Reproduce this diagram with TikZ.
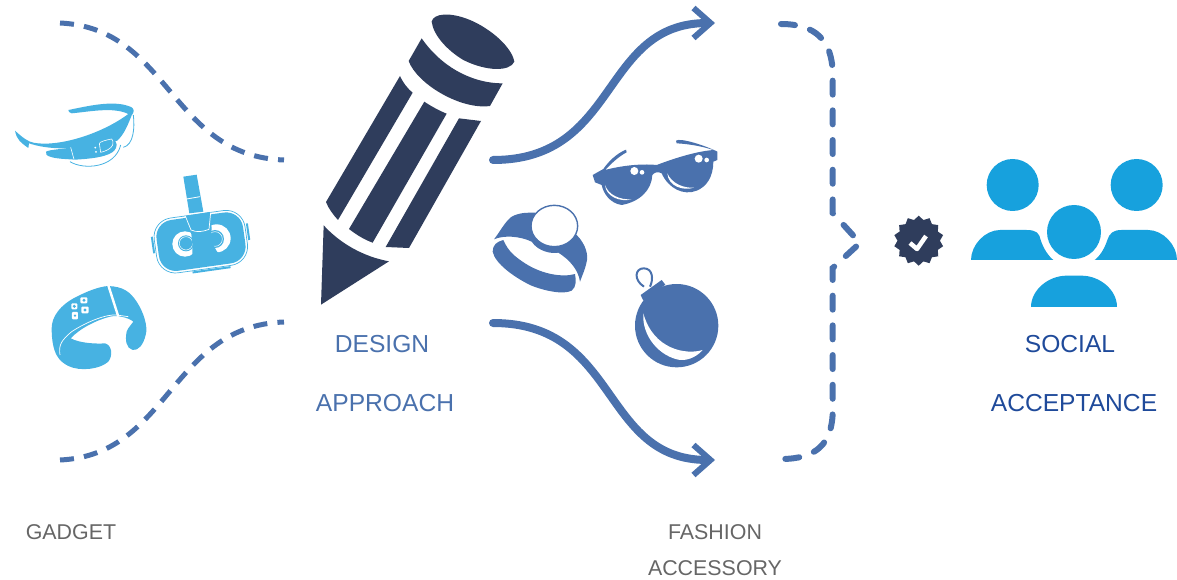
\documentclass[tikz,border=0pt]{standalone}
\usepackage{fontspec}
\setmainfont{Liberation Sans}
\usepackage{xcolor}
\usetikzlibrary{arrows.meta, shapes.geometric}
\definecolor{gadgetBlue}{HTML}{47b2e2}
\definecolor{peopleBlue}{HTML}{17a1dd}
\definecolor{pencilDark}{HTML}{2f3d5c}
\definecolor{accessBlue}{HTML}{4a71ad}
\definecolor{socialBlue}{HTML}{1f4a9a}
\definecolor{labelGrey}{HTML}{666666}
\begin{document}
\begin{tikzpicture}[x=1pt,y=-1pt,lbl/.style={font=\fontsize{24.6}{28}\selectfont, inner sep=0pt},lblgrey/.style={font=\fontsize{21.4}{26}\selectfont, inner sep=0pt, color=labelGrey},flow/.style={-{Straight Barb[length=17pt,width=30pt,line width=6pt]}, line width=8pt, line cap=round, color=accessBlue},dashedflow/.style={line width=5pt, color=accessBlue, dash pattern=on 14pt off 10.2pt},bracedash/.style={line width=6pt, line cap=round, color=accessBlue, dash pattern=on 14pt off 15.7pt},zoomA/.style={shift={(0,90)},scale=1/3},zoomB/.style={shift={(300,0)},scale=1/3},zoomC/.style={shift={(480,120)},scale=1/3},zoomD/.style={shift={(880,150)},scale=1/3}]
\useasboundingbox (0,0) rectangle (1177,580);
\coordinate (gadgetTop) at (60,23);
\coordinate (gadgetBot) at (60,460);
\coordinate (designTop) at (284,160);
\coordinate (designBot) at (284,322);
\coordinate (penTop) at (493,160);
\coordinate (penBot) at (493,323);
\coordinate (fashionTop) at (715,23);
\coordinate (fashionBot) at (715,460);
\coordinate (braceTop) at (781,24);
\coordinate (braceBot) at (781,459);
\coordinate (braceTip) at (860,243);
\draw[dashedflow] (gadgetTop) .. controls (170,28) and (170,156) .. (designTop);
\draw[dashedflow] (gadgetBot) .. controls (170,455) and (170,326) .. (designBot);
\draw[flow] (penTop) .. controls (620,160) and (600,23) .. (fashionTop);
\draw[flow] (penBot) .. controls (620,323) and (600,460) .. (fashionBot);
\draw[bracedash] (braceTop) .. controls (815,24) and (832.7,40) .. (832.7,75) -- (832.7,213) -- (braceTip) -- (832.7,268) -- (832.7,410) .. controls (832.7,445) and (815,459) .. (braceBot);
\begin{scope}[zoomA]
\fill[gadgetBlue] (205,60) .. controls (265,48) and (345,28) .. (395,52) .. controls (404,58) and (402,68) .. (395,76) .. controls (385,100) and (375,130) .. (352,152) .. controls (230,185) and (140,178) .. (87,160) -- (85,174) .. controls (65,160) and (50,150) .. (45,122) .. controls (70,145) and (85,155) .. (100,158) .. controls (170,172) and (300,135) .. (385,72) .. controls (340,50) and (270,65) .. (215,70) .. controls (208,68) and (205,65) .. (205,60) -- cycle;
\fill[gadgetBlue] (138,185) .. controls (150,178) and (190,178) .. (212,172) -- (330,145) .. controls (345,145) and (352,160) .. (350,172) .. controls (340,195) and (300,205) .. (225,209) .. controls (200,207) and (170,207) .. (150,200) .. controls (140,197) and (136,192) .. (138,185) -- cycle;
\draw[white, line width=0.6pt] (212,172) -- (222,208) (335,147) .. controls (318,150) and (300,155) .. (298,160) -- (302,187) .. controls (315,185) and (335,175) .. (338,165) .. controls (340,155) and (338,150) .. (335,147) (355,152) .. controls (350,180) and (340,195) .. (325,200);
\fill[white] (286,173) circle (3) (288,186) circle (3);
\draw[gadgetBlue, line width=0.8pt] (400,75) .. controls (405,115) and (400,165) .. (370,172) (210,215) .. controls (250,240) and (345,235) .. (362,165);
\fill[gadgetBlue] (550,260) -- (590,254) -- (610,365) -- (568,370) -- cycle;
\draw[white, line width=0.8pt] (560,327) -- (600,320);
\begin{scope}[rotate around={8:(603,455)}]
\fill[gadgetBlue, rounded corners=17pt] (472,378) rectangle (734,532);
\draw[gadgetBlue, line width=0.7pt, rounded corners=19pt] (465,372) rectangle (740,538);
\fill[gadgetBlue] (456,420) rectangle (462,470) (744,420) rectangle (750,470) (565,540) rectangle (680,546);
\end{scope}
\fill[white] (555,462) circle (38) (650,445) circle (42);
\fill[gadgetBlue] (558,460) circle (24) (645,447) circle (27);
\draw[white, line width=0.5pt] (558,460) circle (20) (645,447) circle (22);
\fill[gadgetBlue] (556,378) -- (630,366) -- (635,415) .. controls (630,445) and (640,470) .. (655,490) -- (576,507) .. controls (580,470) and (575,440) .. (572,420) -- cycle;
\draw[white, line width=0.7pt] (556,378) -- (573,420) .. controls (590,428) and (610,425) .. (627,418) -- (632,368);
\fill[gadgetBlue] (155,715) .. controls (155,680) and (180,645) .. (230,620) .. controls (260,605) and (295,590) .. (325,588) .. controls (370,590) and (390,605) .. (410,635) .. controls (430,665) and (445,710) .. (437,735) .. controls (430,765) and (415,782) .. (398,780) .. controls (378,775) and (375,750) .. (380,725) .. controls (385,710) and (395,705) .. (400,695) .. controls (385,682) and (350,675) .. (330,680) .. controls (290,690) and (240,715) .. (212,745) .. controls (240,760) and (290,762) .. (315,760) .. controls (335,765) and (340,795) .. (325,815) .. controls (300,838) and (240,845) .. (205,828) .. controls (180,815) and (155,795) .. (155,715) -- cycle;
\draw[white, line width=2.4pt] (325,586) -- (355,680);
\draw[white, line width=0.7pt] (180,795) .. controls (175,765) and (185,750) .. (215,725) .. controls (260,695) and (320,672) .. (350,675) -- (385,680);
\fill[white, rounded corners=1pt] (214,640) rectangle (232,658) (241,622) rectangle (262,640) (216,666) rectangle (234,688) (244,650) rectangle (266,670);
\fill[gadgetBlue] (223,649) circle (5) (252,631) circle (5) (225,677) circle (4) (255,660) circle (5);
\end{scope}
\begin{scope}[zoomB]
\fill[pencilDark] (71,676) .. controls (120,730) and (190,770) .. (267,784) -- (63,914) -- cycle;
\fill[pencilDark] (300,228) .. controls (310,250) and (325,268) .. (338,278) -- (114,660) .. controls (100,645) and (85,625) .. (78,606) -- cycle;
\fill[pencilDark] (373,305) .. controls (395,320) and (420,333) .. (440,341) -- (218,728) .. controls (195,720) and (170,705) .. (147,687) -- cycle;
\fill[pencilDark] (477,355) -- (543,363) -- (327,744) -- (257,741) -- cycle;
\fill[pencilDark] (365,115) .. controls (420,195) and (510,250) .. (608,250) -- (570,318) .. controls (480,330) and (350,250) .. (326,183) -- cycle;
\fill[pencilDark] (395,65) .. controls (400,40) and (450,35) .. (510,60) .. controls (570,85) and (635,140) .. (643,185) .. controls (630,215) and (560,215) .. (490,180) .. controls (440,150) and (400,105) .. (395,65) -- cycle;
\end{scope}
\begin{scope}[zoomC]
\fill[accessBlue] (338,165) -- (370,147) .. controls (385,125) and (410,100) .. (438,89) -- (440,97) .. controls (415,110) and (395,130) .. (375,150) .. controls (420,138) and (480,130) .. (530,135) .. controls (570,120) and (640,95) .. (700,90) .. controls (670,80) and (630,72) .. (590,70) -- (588,62) .. controls (600,52) and (680,78) .. (712,95) -- (712,120) -- (700,125) .. controls (700,170) and (680,200) .. (650,212) .. controls (610,228) and (565,205) .. (545,160) .. controls (535,155) and (525,155) .. (517,165) .. controls (515,210) and (480,245) .. (425,255) .. controls (390,250) and (370,220) .. (365,195) -- (345,187) -- cycle;
\fill[white] (463,153) circle (12) (486,157) circle (7) (656,116) circle (12) (680,120) circle (7);
\fill[white] (375,195) .. controls (385,225) and (420,240) .. (455,238) .. controls (420,247) and (378,230) .. (375,195) -- cycle;
\fill[white] (562,160) .. controls (575,190) and (610,205) .. (642,203) .. controls (610,213) and (565,200) .. (562,160) -- cycle;
\fill[accessBlue] (42,358) .. controls (60,335) and (75,305) .. (95,290) .. controls (120,277) and (140,278) .. (165,278) -- (290,345) .. controls (320,375) and (325,410) .. (320,425) .. controls (315,450) and (305,470) .. (300,485) .. controls (295,450) and (270,420) .. (235,398) .. controls (215,402) and (175,395) .. (155,365) .. controls (120,348) and (70,345) .. (42,358) -- cycle;
\fill[accessBlue] (70,360) .. controls (50,365) and (38,375) .. (38,395) .. controls (45,430) and (100,470) .. (150,495) .. controls (190,512) and (250,525) .. (275,512) .. controls (290,500) and (288,480) .. (285,462) .. controls (250,472) and (190,465) .. (135,430) .. controls (105,410) and (85,395) .. (70,360) -- cycle;
\draw[accessBlue, line width=1.4pt, fill=white] (223,318) ellipse (70 and 62);
\fill[accessBlue] (590,617) circle (125);
\fill[accessBlue] (482,525) -- (545,480) -- (556,494) -- (490,542) -- cycle;
\draw[accessBlue, line width=2pt] (492,500) .. controls (460,480) and (465,445) .. (491,445) .. controls (520,445) and (520,480) .. (510,500);
\fill[white] (490,580) .. controls (485,650) and (540,710) .. (600,720) .. controls (630,722) and (655,705) .. (668,690) .. controls (620,705) and (520,690) .. (490,580) -- cycle;
\end{scope}
\node[star, star points=14, star point ratio=1.18, fill=pencilDark, minimum size=50pt, inner sep=0pt] (badge) at (918.7,240.7) {};
\draw[white, line width=4.5pt, line join=round] (910,243) -- (917,249) -- (926,236);
\begin{scope}[zoomD]
\fill[peopleBlue] (398,105) circle (78) (770,105) circle (78) (582,246) circle (81);
\fill[peopleBlue] (273,330) .. controls (273,285) and (315,240) .. (360,240) -- (440,240) .. controls (470,240) and (478,250) .. (482,270) .. controls (490,295) and (505,318) .. (520,330) -- cycle;
\fill[peopleBlue] (891,330) .. controls (891,285) and (849,240) .. (804,240) -- (724,240) .. controls (700,240) and (688,250) .. (682,270) .. controls (674,295) and (660,318) .. (644,330) -- cycle;
\fill[peopleBlue] (453,471) .. controls (453,420) and (505,377) .. (560,377) -- (604,377) .. controls (660,377) and (711,420) .. (711,471) -- cycle;
\end{scope}
\node[lbl, color=accessBlue] (design) at (382,344) {DESIGN};
\node[lbl, color=accessBlue] (approach) at (385,403) {APPROACH};
\node[lbl, color=socialBlue] (social) at (1070,344) {SOCIAL};
\node[lbl, color=socialBlue] (acceptance) at (1074,403) {ACCEPTANCE};
\node[lblgrey] (gadget) at (71,532) {GADGET};
\node[lblgrey] (fashion) at (715,532) {FASHION};
\node[lblgrey] (accessory) at (715,568) {ACCESSORY};
\end{tikzpicture}
\end{document}
